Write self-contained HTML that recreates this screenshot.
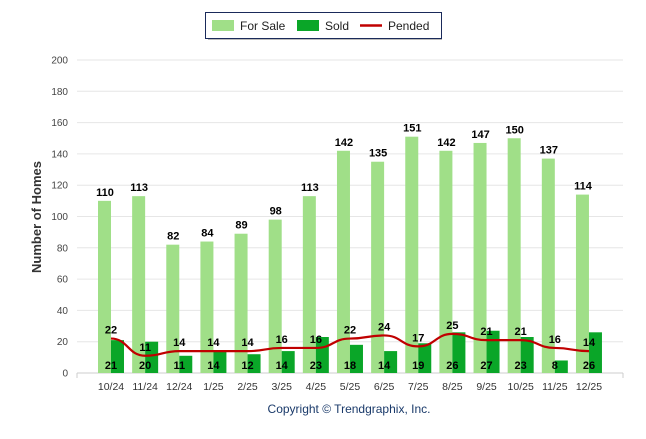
<!DOCTYPE html>
<html><head><meta charset="utf-8"><style>
body{margin:0;background:#fff;font-family:"Liberation Sans",sans-serif}
</style></head><body>
<svg id="c" width="646" height="434" xmlns="http://www.w3.org/2000/svg">
<g>
<rect x="208" y="37" width="234" height="3" fill="#bbb"/>
<rect x="205.5" y="12.5" width="236" height="26" fill="#fff" stroke="#1a2a5a" stroke-width="1"/>
<rect x="212" y="20" width="22" height="11" fill="#a0df88"/>
<text x="240" y="30" font-size="12" fill="#222">For Sale</text>
<rect x="297" y="20" width="22" height="11" fill="#0aa628"/>
<text x="325" y="30" font-size="12" fill="#222">Sold</text>
<line x1="360" y1="25.5" x2="382" y2="25.5" stroke="#c00000" stroke-width="2.5"/>
<text x="388" y="30" font-size="12" fill="#222">Pended</text>
</g>
<text transform="translate(41,217) rotate(-90)" text-anchor="middle" font-size="13" font-weight="bold" fill="#333">Number of Homes</text>
<text x="349" y="413" text-anchor="middle" font-size="12" fill="#1a3a6a">Copyright © Trendgraphix, Inc.</text>
<g id="g"></g>
</svg>
<script>
const categories=["10/24","11/24","12/24","1/25","2/25","3/25","4/25","5/25","6/25","7/25","8/25","9/25","10/25","11/25","12/25"];
const forSale=[110,113,82,84,89,98,113,142,135,151,142,147,150,137,114];
const sold=[21,20,11,14,12,14,23,18,14,19,26,27,23,8,26];
const pended=[22,11,14,14,14,16,16,22,24,17,25,21,21,16,14];
const yTicks=[0,20,40,60,80,100,120,140,160,180,200];
const NS="http://www.w3.org/2000/svg";
const g=document.getElementById('g');
const y=v=>373-v*313/200;
const x=i=>111+i*34.14;
function el(t,a,txt){const e=document.createElementNS(NS,t);for(const k in a)e.setAttribute(k,a[k]);if(txt!==undefined)e.textContent=txt;g.appendChild(e);return e;}
yTicks.forEach(v=>{
 const l=el('line',{x1:77,x2:623,y1:y(v),y2:y(v),stroke:v?'#e6e6e6':'#ccc','stroke-width':1});
 
 
 const t=el('text',{x:68,y:y(v)+3.5,'text-anchor':'end','font-size':10,fill:'#444'},v);
 
 
});
el('line',{x1:77,x2:77,y1:373,y2:378,stroke:'#ccc'});
el('line',{x1:623,x2:623,y1:373,y2:378,stroke:'#ccc'});
categories.forEach((c,i)=>{
 const t=el('text',{x:x(i),y:390,'text-anchor':'middle','font-size':10.5,fill:'#333'},c);
 
 
 const b=el('rect',{x:x(i)-13,y:y(forSale[i]),width:13,height:373-y(forSale[i]),fill:'#a0df88'});
 
 
 const s=el('rect',{x:x(i),y:y(sold[i]),width:13,height:373-y(sold[i]),fill:'#0aa628'});
 
 
});
let d='';
pended.forEach((v,i)=>{
 if(i===0){d='M'+x(0)+','+y(v);return;}
 const x0=x(i-1),x1=x(i),c=(x1-x0)/2;
 d+=` C${x0+c},${y(pended[i-1])} ${x1-c},${y(v)} ${x1},${y(v)}`;
});
const p=el('path',{d:d,fill:'none',stroke:'#c00000','stroke-width':2.2});


categories.forEach((c,i)=>{
 const a=el('text',{x:x(i)-6,y:y(forSale[i])-5,'text-anchor':'middle','font-size':11,'font-weight':'bold',fill:'#000'},forSale[i]);
 
 
 const b=el('text',{x:x(i),y:369,'text-anchor':'middle','font-size':11,'font-weight':'bold',fill:'#000'},sold[i]);
 
 
 const e=el('text',{x:x(i),y:y(pended[i])-5,'text-anchor':'middle','font-size':11,'font-weight':'bold',fill:'#000'},pended[i]);
 
 
});
</script>
</body></html>
